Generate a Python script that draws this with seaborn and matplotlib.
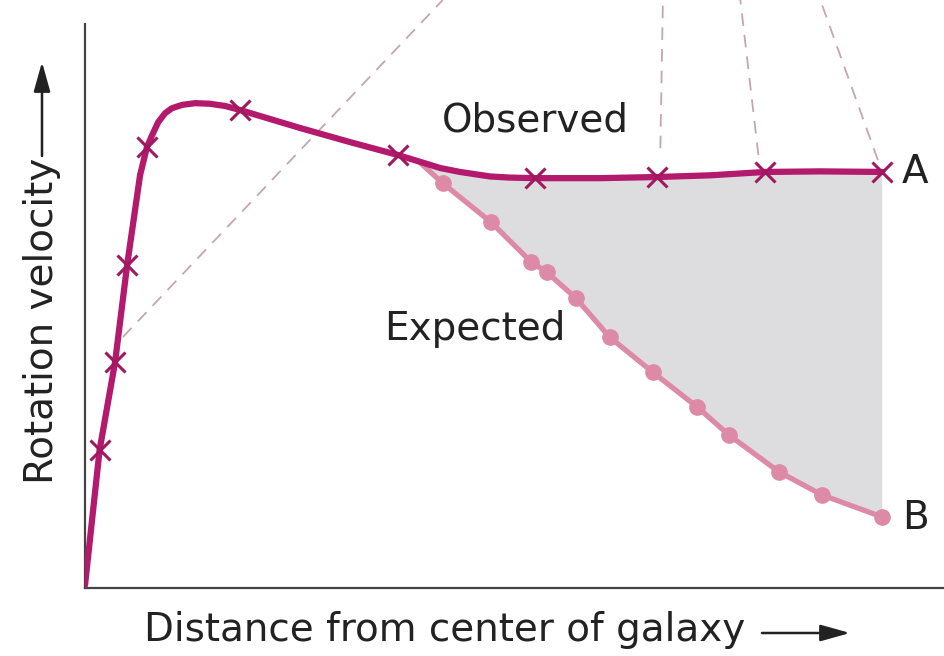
import numpy as np
import pandas as pd
import seaborn as sns
from matplotlib import pyplot as plt
from matplotlib.patches import FancyArrowPatch

# observed rotation curve (line path) and its x markers
obs_x = [0, 0.17, 0.35, 0.49, 0.64, 0.72, 0.78, 0.85, 0.93, 1.01, 1.13, 1.28, 1.45, 1.63,
         1.80, 2.50, 3.08, 3.64, 4.13, 4.36, 4.71, 4.94, 5.23, 5.99, 6.65, 7.27, 7.91,
         8.55, 9.27]
obs_y = [0.05, 2.45, 4.01, 5.73, 7.32, 7.82, 8.03, 8.26, 8.42, 8.51, 8.57, 8.60, 8.59, 8.55,
         8.48, 8.16, 7.91, 7.68, 7.45, 7.38, 7.30, 7.28, 7.27, 7.27, 7.29, 7.32, 7.38,
         7.39, 7.38]
obs_mark_x = [0.17, 0.35, 0.49, 0.72, 1.80, 3.64, 5.23, 6.65, 7.91, 9.27]
obs_mark_y = [2.45, 4.01, 5.73, 7.82, 8.48, 7.68, 7.27, 7.29, 7.38, 7.38]

# expected (Keplerian) curve, first point is where it leaves the observed one
exp_x = [3.90, 4.16, 4.72, 5.19, 5.37, 5.71, 6.10, 6.60, 7.12, 7.49, 8.07, 8.57, 9.27]
exp_y = [7.54, 7.18, 6.49, 5.78, 5.60, 5.14, 4.45, 3.83, 3.21, 2.71, 2.06, 1.65, 1.26]

# dashed guide lines (start on curve, end at top of picture)
guide_x0 = [0.44, 6.69, 7.83, 9.22]
guide_y0 = [4.45, 7.80, 7.68, 7.59]
guide_x1 = [4.16, 6.72, 7.62, 8.55]
guide_y1 = [10.43, 10.43, 10.43, 10.43]

sns.set_style("white")
plt.rcParams['font.family'] = ['DejaVu Sans']

obs = pd.DataFrame({"x": obs_x, "y": obs_y})
expd = pd.DataFrame({"x": exp_x, "y": exp_y})

W, H = 945, 656
fig = plt.figure(figsize=(W / 100, H / 100), dpi=100)
ax = fig.add_axes([85 / W, 68 / H, 860 / W, 588 / H])
ax.set_xlim(0, 10)
ax.set_ylim(0, 10.43)

# shaded gap between observed and expected
sel = [i for i, v in enumerate(obs_x) if v >= 3.90]
poly_x = [obs_x[i] for i in sel] + exp_x[::-1]
poly_y = [obs_y[i] for i in sel] + exp_y[::-1]
ax.fill(poly_x, poly_y, color="#dddddf", lw=0, zorder=1)

for x0, y0, x1, y1 in zip(guide_x0, guide_y0, guide_x1, guide_y1):
    ax.plot([x0, x1], [y0, y1], ls=(0, (7, 5)), color="#c4a6b0", lw=1.3, zorder=1, clip_on=False)

sns.lineplot(data=expd, x="x", y="y", sort=False, color="#dd8aa6", lw=3.8, ax=ax, zorder=3)
ax.plot(exp_x[1:], exp_y[1:], ls="none", marker="o", ms=11, color="#dd8aa6", zorder=3)

sns.lineplot(data=obs, x="x", y="y", sort=False, color="#b3196c", lw=4.5, ax=ax, zorder=4)
ax.plot(obs_mark_x, obs_mark_y, ls="none", marker="x", ms=15, mew=2.2, color="#a0185f", zorder=5)

txt = dict(fontsize=28, color="#222222")
ax.text(5.24, 8.3, "Observed", ha="center", va="center", **txt)
ax.text(4.53, 4.6, "Expected", ha="center", va="center", **txt)
ax.text(9.5, 7.38, "A", ha="left", va="center", **txt)
ax.text(9.5, 1.25, "B", ha="left", va="center", **txt)

ax.set_xticks([])
ax.set_yticks([])
ax.set_xlabel("")
ax.set_ylabel("")

# axis titles with long arrows
fig.text(745 / W, 1 - 630 / H, "Distance from center of galaxy", ha="right", va="center", **txt)
fig.text(42 / W, 1 - 484 / H, "Rotation velocity", rotation=90, ha="center", va="bottom", **txt)
arrow = dict(arrowstyle="-|>,head_length=1.0,head_width=0.28", color="#222222", lw=1.8,
             mutation_scale=18, shrinkA=0, shrinkB=0, transform=fig.transFigure)
fig.add_artist(FancyArrowPatch((762 / W, 1 - 633 / H), (850 / W, 1 - 633 / H), **arrow))
fig.add_artist(FancyArrowPatch((42 / W, 1 - 156 / H), (42 / W, 1 - 62 / H), **arrow))

for s in ["top", "right"]:
    ax.spines[s].set_visible(False)
ax.spines["left"].set_bounds(0, 10)
for s in ["left", "bottom"]:
    ax.spines[s].set_color("#444444")
    ax.spines[s].set_linewidth(1.6)

fig.savefig("out.png", dpi=100)
